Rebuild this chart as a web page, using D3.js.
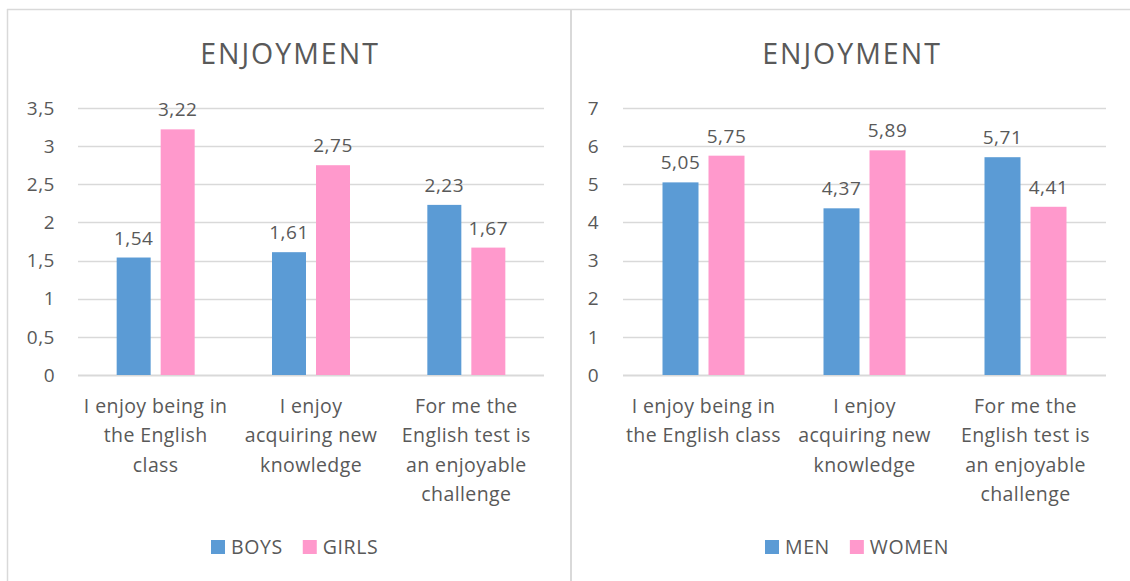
<!DOCTYPE html>
<html>
<head>
<meta charset="utf-8">
<script src="https://cdn.jsdelivr.net/npm/d3@7"></script>
<style>
  body { margin: 0; background: #fff; }
  svg text { font-family: "Open Sans", Lato, sans-serif; fill: #595959; }
</style>
</head>
<body>
<svg id="chart" width="1130" height="581"></svg>
<script>
// category labels, already broken into lines as in the picture
const leftCategories = [
  ["I enjoy being in", "the English", "class"],
  ["I enjoy", "acquiring new", "knowledge"],
  ["For me the", "English test is", "an enjoyable", "challenge"]
];
const rightCategories = [
  ["I enjoy being in", "the English class"],
  ["I enjoy", "acquiring new", "knowledge"],
  ["For me the", "English test is", "an enjoyable", "challenge"]
];

// series
const boys = [1.54, 1.61, 2.23];
const girls = [3.22, 2.75, 1.67];
const men = [5.05, 4.37, 5.71];
const women = [5.75, 5.89, 4.41];

const leftSeries = ["BOYS", "GIRLS"];
const rightSeries = ["MEN", "WOMEN"];

// y ticks
const leftTicks = [0, 0.5, 1, 1.5, 2, 2.5, 3, 3.5];
const rightTicks = [0, 1, 2, 3, 4, 5, 6, 7];

const colors = ["#5B9BD5", "#FF99CC"];
const fmt = v => String(v).replace(".", ",");

const svg = d3.select("svg#chart");

// panel borders
svg.append("line").attr("x1", 7).attr("x2", 1130).attr("y1", 9.5).attr("y2", 9.5)
  .attr("stroke", "#d9d9d9").attr("stroke-width", 1.5);
svg.append("line").attr("x1", 7.5).attr("x2", 7.5).attr("y1", 9).attr("y2", 581)
  .attr("stroke", "#d9d9d9").attr("stroke-width", 1.5);
svg.append("line").attr("x1", 571).attr("x2", 571).attr("y1", 9).attr("y2", 581)
  .attr("stroke", "#d9d9d9").attr("stroke-width", 2);

function drawChart(cfg) {
  const g = svg.append("g");

  const x = d3.scaleBand()
    .domain(d3.range(cfg.categories.length))
    .range([cfg.left, cfg.right]);

  const y = d3.scaleLinear()
    .domain([0, d3.max(cfg.ticks)])
    .range([375, 108]);

  // title
  g.append("text")
    .attr("x", cfg.titleX)
    .attr("y", 64)
    .attr("text-anchor", "middle")
    .style("font-size", "28.5px")
    .style("letter-spacing", "2px")
    .text("ENJOYMENT");

  // gridlines
  g.selectAll("line.grid")
    .data(cfg.ticks)
    .enter().append("line")
      .attr("class", "grid")
      .attr("x1", cfg.left).attr("x2", cfg.right)
      .attr("y1", d => Math.round(y(d)) + 0.5)
      .attr("y2", d => Math.round(y(d)) + 0.5)
      .attr("stroke", "#d9d9d9")
      .attr("stroke-width", d => d === 0 ? 2 : 1.5);

  // y tick labels
  g.selectAll("text.ytick")
    .data(cfg.ticks)
    .enter().append("text")
      .attr("class", "ytick")
      .attr("x", cfg.tickX)
      .attr("y", d => y(d))
      .attr("dy", "0.35em")
      .attr("text-anchor", "end")
      .style("font-size", "19px")
      .style("letter-spacing", "0.5px")
      .text(fmt);

  // bars
  const bw = cfg.barWidth, gap = cfg.gap;
  cfg.values.forEach((vals, s) => {
    const off = s === 0 ? -gap / 2 - bw : gap / 2;
    g.selectAll(`rect.s${s}`)
      .data(vals)
      .enter().append("rect")
        .attr("class", `s${s}`)
        .attr("x", (d, i) => x(i) + x.bandwidth() / 2 + off)
        .attr("y", d => y(d))
        .attr("width", bw)
        .attr("height", d => y(0) - y(d))
        .attr("fill", colors[s]);

    g.selectAll(`text.lab${s}`)
      .data(vals)
      .enter().append("text")
        .attr("class", `lab${s}`)
        .attr("x", (d, i) => x(i) + x.bandwidth() / 2 + off + bw / 2)
        .attr("y", d => y(d) - 13)
        .attr("text-anchor", "middle")
        .style("font-size", "19px")
        .style("letter-spacing", "0.5px")
        .text(fmt);
  });

  // category labels
  const cat = g.selectAll("text.cat")
    .data(cfg.categories)
    .enter().append("text")
      .attr("class", "cat")
      .attr("text-anchor", "middle")
      .style("font-size", "19.5px")
      .style("letter-spacing", "0.4px");
  cat.selectAll("tspan")
    .data((d, i) => d.map(line => ({ line, i })))
    .enter().append("tspan")
      .attr("x", d => x(d.i) + x.bandwidth() / 2)
      .attr("y", (d, j) => 413 + j * 29.3)
      .text(d => d.line);

  // legend
  const lg = g.append("g");
  let lx = cfg.legendX;
  cfg.series.forEach((name, s) => {
    lg.append("rect")
      .attr("x", lx).attr("y", 540)
      .attr("width", 14).attr("height", 14)
      .attr("fill", colors[s]);
    const t = lg.append("text")
      .attr("x", lx + 20).attr("y", 554)
      .style("font-size", "19.5px")
      .style("letter-spacing", "0.6px")
      .text(name);
    lx += 20 + t.node().getComputedTextLength() + 20;
  });
}

drawChart({
  categories: leftCategories, values: [boys, girls], series: leftSeries,
  ticks: leftTicks, left: 78, right: 544, tickX: 55, titleX: 290,
  barWidth: 34, gap: 10, legendX: 211
});
drawChart({
  categories: rightCategories, values: [men, women], series: rightSeries,
  ticks: rightTicks, left: 623, right: 1106, tickX: 599, titleX: 852,
  barWidth: 36, gap: 10, legendX: 765
});
</script>
</body>
</html>
